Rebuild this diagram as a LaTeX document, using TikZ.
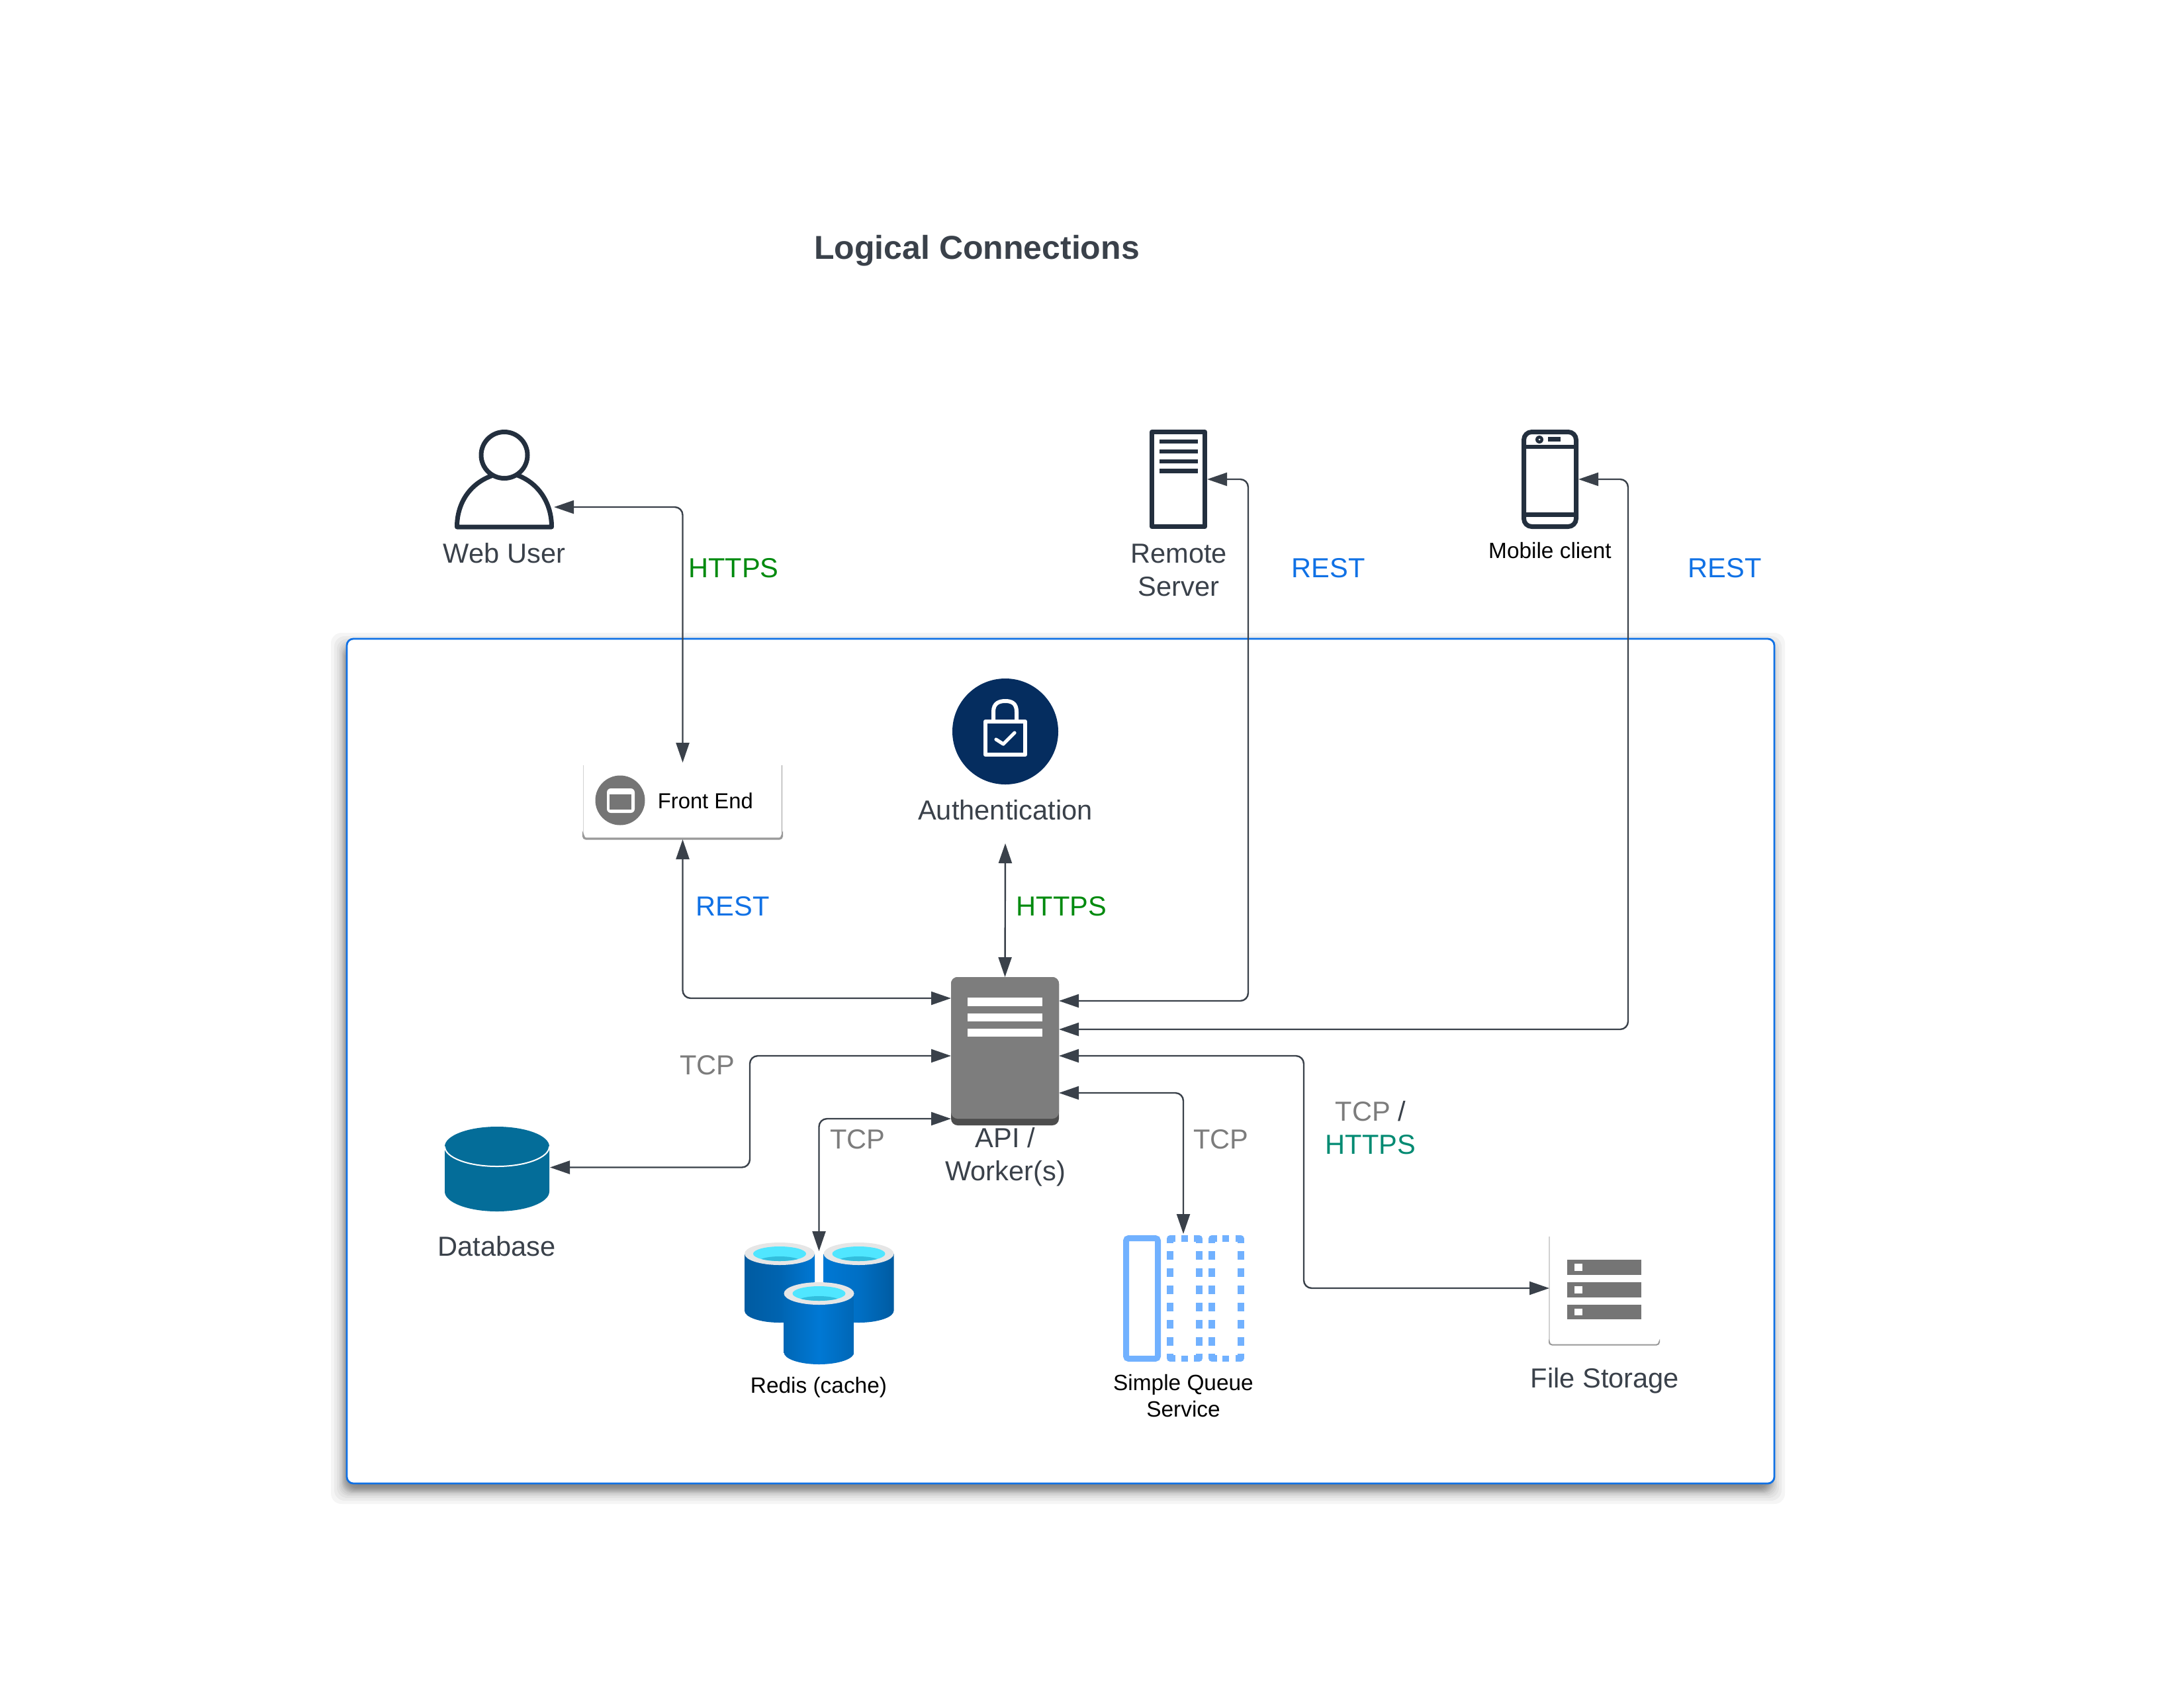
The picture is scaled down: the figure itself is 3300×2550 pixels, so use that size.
\documentclass[tikz,border=0pt]{standalone}
\usepackage{fontspec}
\setmainfont{Liberation Sans}
\usetikzlibrary{arrows.meta}
\definecolor{ink}{HTML}{3A414A}
\definecolor{dark}{HTML}{232F3E}
\definecolor{frame}{HTML}{1071E5}
\definecolor{httpsg}{HTML}{008A0E}
\definecolor{httpst}{HTML}{008A72}
\definecolor{restb}{HTML}{1071E5}
\definecolor{tcpg}{HTML}{7C7C7C}
\definecolor{authb}{HTML}{052D5F}
\definecolor{apig}{HTML}{7D7D7D}
\definecolor{apid}{HTML}{4D4D4D}
\definecolor{fsg}{HTML}{757575}
\definecolor{dbb}{HTML}{046D99}
\definecolor{sqsb}{HTML}{71B1FF}
\definecolor{azd}{HTML}{005BA1}
\definecolor{azl}{HTML}{0078D4}
\definecolor{rim}{HTML}{E6E6E6}
\definecolor{cy}{HTML}{50E6FF}
\definecolor{cyd}{HTML}{32BEDD}
\tikzset{
  box/.style 2 args={minimum width=#1*0.25pt,minimum height=#2*0.25pt,inner sep=0pt,outer sep=0pt},
  big/.style={font=\fontsize{10.4}{12.5}\selectfont,inner sep=0pt,anchor=base,align=center,text=ink},
  small/.style={font=\fontsize{8.35}{10}\selectfont,inner sep=0pt,anchor=base,align=center,text=black},
  conn/.style={draw=ink,line width=0.6pt,rounded corners=3pt,>={Triangle[length=7.5pt,width=5pt]}},
  icon/.style={draw=dark,line width=1.75pt,line join=round},
  sqsline/.style={draw=sqsb,line width=2.5pt,line join=round},
}
\begin{document}
\begin{tikzpicture}[x=0.25pt,y=-0.25pt]
\useasboundingbox (0,-2) rectangle (3300,2548);
% soft shadow and container
\foreach \d in {-20,-15,-11,-8,-6,-4,-3,-2,-1,0,1,2,3,4,6,8,11,15,20}
  \fill[black,opacity=0.04,rounded corners=4pt] ({520-\d},{974-\d}) rectangle ({2677+\d},{2250+\d});
\node[box={2157}{1276},fill=white,draw=frame,line width=0.7pt,rounded corners=2.5pt] (zone) at (1602.5,1601) {};
% title
\node[inner sep=0pt,anchor=base,text=ink,font=\fontsize{12.5}{14}\selectfont\bfseries] (title) at (1476,389) {Logical Connections};
% web user
\node[box={150}{150}] (webuser) at (762,722) {};
\draw[icon] (762,685.5) circle[radius=35];
\draw[icon] (745,716) .. controls (712,727) and (690.5,756) .. (690.5,794) -- (833.5,794) .. controls (833.5,756) and (812,727) .. (782,716);
\node[big] (webuserlbl) at (762,848) {Web User};
% remote server
\node[box={87}{150}] (remote) at (1780.5,722) {};
\draw[icon] (1740.5,650.5) rectangle (1820.5,793.5);
\foreach \yy in {665,680,695,709.6}
  \fill[dark] (1752,{\yy-3.25}) rectangle (1809.5,{\yy+3.25});
\node[big] (remotelbl) at (1781,898) {Remote\\Server};
% mobile
\node[box={86}{150}] (mobile) at (2342,722) {};
\draw[icon,rounded corners=3pt] (2302.5,650.5) rectangle (2381.5,793.5);
\draw[dark,line width=1.7pt] (2302.5,673) -- (2381.5,673) (2302.5,775.5) -- (2381.5,775.5);
\fill[dark] (2326,662) circle[radius=6];
\fill[white] (2326,662) circle[radius=1.5];
\fill[dark] (2339,658) rectangle (2358,665);
\node[small] (mobilelbl) at (2342,841) {Mobile client};
% front end
\node[box={300}{113}] (frontend) at (1031.5,1209.5) {};
\draw[draw=black!18,line width=0.3pt] (881.5,1153.5) -- (881.5,1262);
\draw[draw=black!40,line width=0.35pt] (1181.5,1153.5) -- (1181.5,1262);
\draw[draw=black!40,line width=0.8pt,rounded corners=1pt] (881.5,1262) -- (881.5,1265) -- (1181.5,1265) -- (1181.5,1262);
\fill[fsg] (937,1207) circle[radius=37.5];
\fill[white,rounded corners=1.5pt] (917,1189) rectangle (959,1226);
\fill[fsg] (921,1198) rectangle (954,1221);
\node[small,anchor=base west,font=\fontsize{8.2}{10}\selectfont] (frontlbl) at (993,1219) {Front End};
% authentication
\node[box={262}{249}] (auth) at (1519,1147.5) {};
\fill[authb] (1519,1103) circle[radius=80];
\draw[white,line width=1.6pt,line join=round] (1489,1088) rectangle (1549,1138);
\draw[white,line width=1.5pt] (1501,1087) -- (1501,1073) .. controls (1501,1060) and (1510,1057) .. (1519,1057) .. controls (1528,1057) and (1536,1060) .. (1536,1073) -- (1536,1087);
\draw[white,line width=1.3pt,line cap=round,line join=round] (1505,1115) -- (1516,1122) -- (1533,1105);
\node[big] (authlbl) at (1519,1236) {Authentication};
% api
\node[box={163}{224},fill=apid,rounded corners=2.5pt] (api) at (1518.5,1586) {};
\fill[apig,rounded corners=2.5pt] (1437,1474) rectangle (1600,1688);
\foreach \ya/\yb in {1505/1518,1529/1541,1551.5/1564}
  \fill[white] (1462,\ya) rectangle (1575,\yb);
\node[big] (apilbl) at (1519,1781) {API /\\Worker(s)};
% database
\node[box={159}{128}] (db) at (751.5,1764) {};
\fill[dbb] (672,1730) arc[start angle=180,end angle=360,x radius=79,y radius=30] -- (830,1798) arc[start angle=0,end angle=180,x radius=79,y radius=30] -- cycle;
\draw[white,line width=0.5pt] (672,1730) arc[start angle=180,end angle=0,x radius=79,y radius=30];
\node[big] (dblbl) at (750.5,1895) {Database};
% redis
\node[box={225}{183}] (redis) at (1237.5,1966.5) {};
\coordinate (redisin) at (1237.5,1888);
\newcommand{\cyl}[6]{%
  \shade[left color=#4,right color=#5,middle color=#6] ({#1-53},#2) -- ({#1-53},#3) arc[start angle=180,end angle=0,x radius=53,y radius=18] -- ({#1+53},#2) -- cycle;
  \fill[rim] (#1,#2) circle[x radius=53,y radius=17];
  \fill[cy] (#1,#2) circle[x radius=40,y radius=11];
  \begin{scope}
    \clip (#1,#2) circle[x radius=40,y radius=11];
    \fill[cyd] (#1,{#2+13}) circle[x radius=34,y radius=9];
  \end{scope}}
\cyl{1178}{1892}{1978}{azd}{azl}{azd!70!azl}
\cyl{1297.5}{1892}{1978}{azl}{azd}{azd!30!azl}
\cyl{1237.5}{1952}{2041}{azd!60!azl}{azd!60!azl}{azl}
\node[small] (redislbl) at (1237,2102) {Redis (cache)};
% simple queue service
\node[box={182}{193}] (sqs) at (1788,1958.5) {};
\draw[sqsb,line width=2.25pt,rounded corners=1pt] (1701.5,1868.5) rectangle (1749.5,2050.5);
\foreach \xx in {1768,1812,1831,1874.5}
  \foreach \k in {0,...,5}
    \fill[sqsb] ({\xx-5},{1888+26*\k}) rectangle ({\xx+5},{1901+26*\k});
\foreach \xa/\xb in {1768/1776,1812/1804,1831/1839,1874.5/1866.5}{
  \draw[sqsline] (\xa,1876) -- (\xa,1869) -- (\xb,1869);
  \draw[sqsline] (\xa,2043) -- (\xa,2050) -- (\xb,2050);
}
\foreach \xx in {1790,1852}{
  \fill[sqsb] ({\xx-5},1864) rectangle ({\xx+5},1874);
  \fill[sqsb] ({\xx-5},2046) rectangle ({\xx+5},2055);
}
\node[small] (sqslbl) at (1788,2138) {Simple Queue\\Service};
% file storage
\node[box={166}{164}] (files) at (2424,1948) {};
\draw[draw=black!18,line width=0.3pt] (2341,1866) -- (2341,2028);
\draw[draw=black!40,line width=0.5pt,rounded corners=1pt] (2341,2026) -- (2341,2029.5) -- (2507,2029.5) -- (2507,2026);
\foreach \ya/\yb in {1901/1924,1935/1958,1969/1991}{
  \fill[fsg] (2368,\ya) rectangle (2480,\yb);
  \fill[white] (2379,{\ya+6}) rectangle (2391,{\yb-6});
}
\node[big] (fileslbl) at (2425,2094) {File Storage};
% connectors
\draw[conn,<->] (webuser.east |- 0,764) -- (1031.5,764) -- (1031.5,1150);
\draw[conn,<->] (frontend.south) -- (1031.5,1506) -- (api.west |- 0,1506);
\draw[conn,<->] (auth.south) -- (api.north);
\draw[conn,<->] (remote.east |- 0,722) -- (1886,722) -- (1886,1510) -- (api.east |- 0,1510);
\draw[conn,<->] (mobile.east |- 0,722) -- (2460,722) -- (2460,1553) -- (api.east |- 0,1553);
\draw[conn,<->] (api.west |- 0,1593) -- (1133,1593) -- (1133,1761.5) -- (db.east |- 0,1761.5);
\draw[conn,<->] (api.west |- 0,1688) -- (1237.5,1688) -- (redisin);
\draw[conn,<->] (api.east |- 0,1649) -- (1788,1649) -- (sqs.north);
\draw[conn,<->] (api.east |- 0,1593) -- (1970,1593) -- (1970,1944) -- (files.west |- 0,1944);
% connector labels
\node[big,text=httpsg] (l1) at (1108.5,870) {HTTPS};
\node[big,text=restb] (l2) at (2007,870) {REST};
\node[big,text=restb] (l3) at (2606,870) {REST};
\node[big,text=restb] (l4) at (1107,1381) {REST};
\node[big,text=httpsg] (l5) at (1604,1381) {HTTPS};
\node[big,text=tcpg] (l6) at (1069,1621) {TCP};
\node[big,text=tcpg] (l7) at (1296,1733) {TCP};
\node[big,text=tcpg] (l8) at (1845,1733) {TCP};
\node[big] (l9) at (2071,1741) {\textcolor{tcpg}{TCP} /\\\textcolor{httpst}{HTTPS}};
\end{tikzpicture}
\end{document}
